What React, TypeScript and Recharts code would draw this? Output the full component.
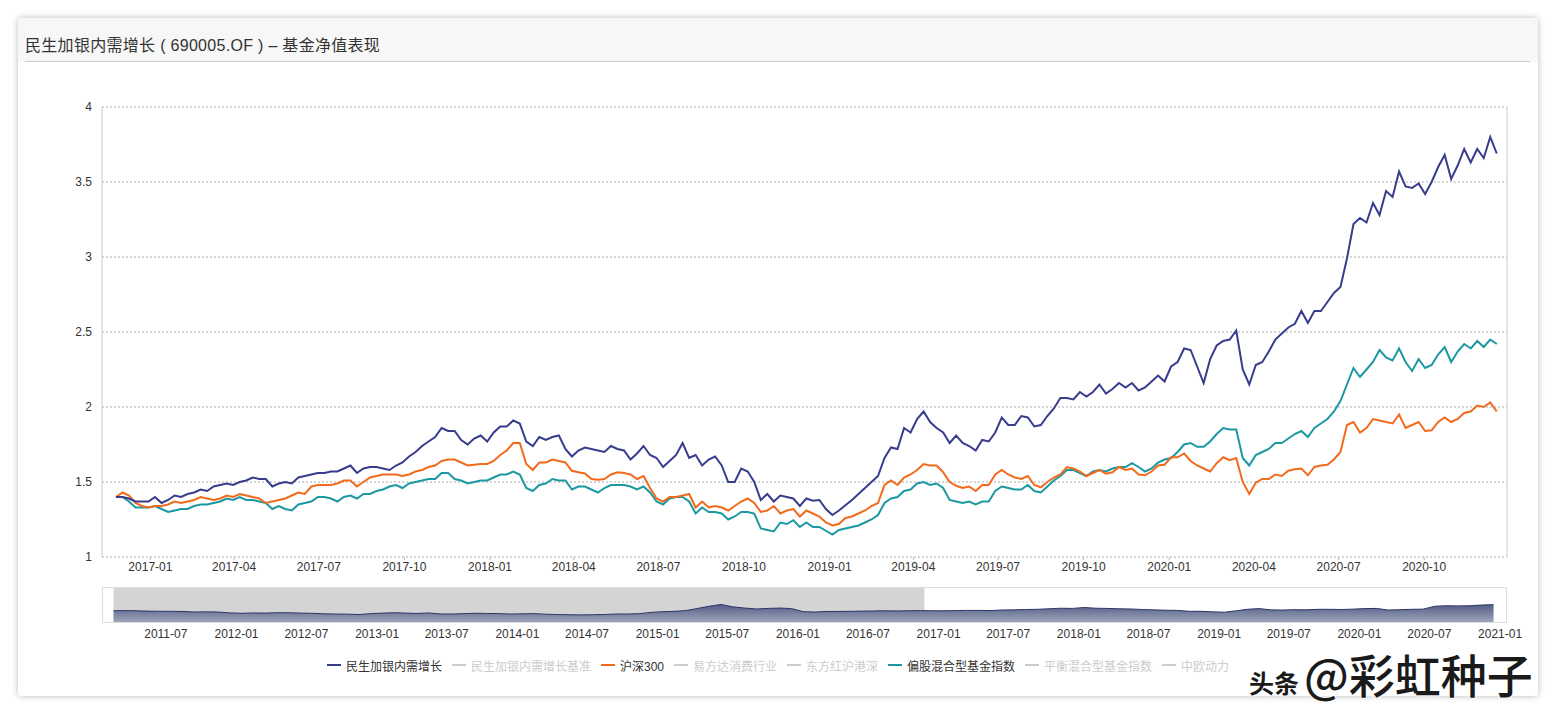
import React from 'react';
import { LineChart, Line, AreaChart, Area, XAxis, YAxis, CartesianGrid, ReferenceArea } from 'recharts';

// weekly NAV points shown in the main chart (Fridays)
const weeks = `
2016-11-25 2016-12-02 2016-12-09 2016-12-16 2016-12-23 2016-12-30
2017-01-06 2017-01-13 2017-01-20 2017-01-27 2017-02-03 2017-02-10 2017-02-17 2017-02-24
2017-03-03 2017-03-10 2017-03-17 2017-03-24 2017-03-31 2017-04-07 2017-04-14 2017-04-21 2017-04-28
2017-05-05 2017-05-12 2017-05-19 2017-05-26 2017-06-02 2017-06-09 2017-06-16 2017-06-23 2017-06-30
2017-07-07 2017-07-14 2017-07-21 2017-07-28 2017-08-04 2017-08-11 2017-08-18 2017-08-25
2017-09-01 2017-09-08 2017-09-15 2017-09-22 2017-09-29 2017-10-06 2017-10-13 2017-10-20 2017-10-27
2017-11-03 2017-11-10 2017-11-17 2017-11-24 2017-12-01 2017-12-08 2017-12-15 2017-12-22 2017-12-29
2018-01-05 2018-01-12 2018-01-19 2018-01-26 2018-02-02 2018-02-09 2018-02-16 2018-02-23
2018-03-02 2018-03-09 2018-03-16 2018-03-23 2018-03-30 2018-04-06 2018-04-13 2018-04-20 2018-04-27
2018-05-04 2018-05-11 2018-05-18 2018-05-25 2018-06-01 2018-06-08 2018-06-15 2018-06-22 2018-06-29
2018-07-06 2018-07-13 2018-07-20 2018-07-27 2018-08-03 2018-08-10 2018-08-17 2018-08-24 2018-08-31
2018-09-07 2018-09-14 2018-09-21 2018-09-28 2018-10-05 2018-10-12 2018-10-19 2018-10-26
2018-11-02 2018-11-09 2018-11-16 2018-11-23 2018-11-30 2018-12-07 2018-12-14 2018-12-21 2018-12-28
2019-01-04 2019-01-11 2019-01-18 2019-01-25 2019-02-01 2019-02-08 2019-02-15 2019-02-22
2019-03-01 2019-03-08 2019-03-15 2019-03-22 2019-03-29 2019-04-05 2019-04-12 2019-04-19 2019-04-26
2019-05-03 2019-05-10 2019-05-17 2019-05-24 2019-05-31 2019-06-07 2019-06-14 2019-06-21 2019-06-28
2019-07-05 2019-07-12 2019-07-19 2019-07-26 2019-08-02 2019-08-09 2019-08-16 2019-08-23 2019-08-30
2019-09-06 2019-09-13 2019-09-20 2019-09-27 2019-10-04 2019-10-11 2019-10-18 2019-10-25
2019-11-01 2019-11-08 2019-11-15 2019-11-22 2019-11-29 2019-12-06 2019-12-13 2019-12-20 2019-12-27
2020-01-03 2020-01-10 2020-01-17 2020-01-24 2020-01-31 2020-02-07 2020-02-14 2020-02-21 2020-02-28
2020-03-06 2020-03-13 2020-03-20 2020-03-27 2020-04-03 2020-04-10 2020-04-17 2020-04-24
2020-05-01 2020-05-08 2020-05-15 2020-05-22 2020-05-29 2020-06-05 2020-06-12 2020-06-19 2020-06-26
2020-07-03 2020-07-10 2020-07-17 2020-07-24 2020-07-31 2020-08-07 2020-08-14 2020-08-21 2020-08-28
2020-09-04 2020-09-11 2020-09-18 2020-09-25 2020-10-02 2020-10-09 2020-10-16 2020-10-23 2020-10-30
2020-11-06 2020-11-13 2020-11-20 2020-11-27 2020-12-04 2020-12-11 2020-12-18
`.trim().split(/\s+/);

// 民生加银内需增长
const fundNav = [
  1.40, 1.40, 1.39, 1.37, 1.37, 1.37, 1.40, 1.36, 1.38, 1.41,
  1.40, 1.42, 1.43, 1.45, 1.44, 1.47, 1.48, 1.49, 1.48, 1.50,
  1.51, 1.53, 1.52, 1.52, 1.47, 1.49, 1.50, 1.49, 1.53, 1.54,
  1.55, 1.56, 1.56, 1.57, 1.57, 1.59, 1.61, 1.56, 1.59, 1.60,
  1.60, 1.59, 1.58, 1.61, 1.63, 1.67, 1.70, 1.74, 1.77, 1.80,
  1.86, 1.84, 1.84, 1.78, 1.75, 1.79, 1.81, 1.77, 1.83, 1.87,
  1.87, 1.91, 1.89, 1.77, 1.74, 1.80, 1.78, 1.80, 1.81, 1.72,
  1.67, 1.71, 1.73, 1.72, 1.71, 1.70, 1.74, 1.72, 1.71, 1.65,
  1.69, 1.74, 1.68, 1.66, 1.60, 1.64, 1.68, 1.76, 1.66, 1.68,
  1.61, 1.65, 1.67, 1.61, 1.50, 1.50, 1.59, 1.57, 1.50, 1.38,
  1.42, 1.37, 1.41, 1.40, 1.39, 1.34, 1.39, 1.375, 1.38, 1.32,
  1.28, 1.31, 1.345, 1.38, 1.42, 1.46, 1.50, 1.54, 1.66, 1.73,
  1.72, 1.86, 1.83, 1.92, 1.97, 1.90, 1.86, 1.83, 1.76, 1.81,
  1.76, 1.74, 1.71, 1.78, 1.77, 1.83, 1.93, 1.88, 1.88, 1.94,
  1.93, 1.87, 1.88, 1.94, 1.99, 2.06, 2.06, 2.05, 2.10, 2.07,
  2.10, 2.15, 2.09, 2.12, 2.16, 2.13, 2.16, 2.11, 2.13, 2.17,
  2.21, 2.17, 2.27, 2.30, 2.39, 2.38, 2.27, 2.16, 2.32, 2.41,
  2.44, 2.45, 2.51, 2.25, 2.15, 2.28, 2.30, 2.37, 2.45, 2.49,
  2.53, 2.555, 2.64, 2.56, 2.64, 2.64, 2.70, 2.76, 2.80, 2.99,
  3.22, 3.26, 3.23, 3.36, 3.28, 3.44, 3.40, 3.57, 3.47, 3.46,
  3.49, 3.42, 3.50, 3.60, 3.68, 3.52, 3.61, 3.72, 3.63, 3.72,
  3.66, 3.80, 3.69,
];

// 沪深300
const hs300 = [
  1.40, 1.43, 1.41, 1.36, 1.34, 1.33, 1.34, 1.34, 1.35, 1.37,
  1.36, 1.37, 1.38, 1.40, 1.39, 1.38, 1.39, 1.41, 1.40, 1.42,
  1.41, 1.40, 1.39, 1.36, 1.37, 1.38, 1.39, 1.41, 1.43, 1.42,
  1.47, 1.48, 1.48, 1.48, 1.49, 1.51, 1.51, 1.47, 1.50, 1.53,
  1.54, 1.55, 1.55, 1.55, 1.54, 1.55, 1.57, 1.58, 1.60, 1.61,
  1.64, 1.65, 1.65, 1.63, 1.61, 1.615, 1.62, 1.62, 1.64, 1.68,
  1.71, 1.76, 1.76, 1.62, 1.58, 1.63, 1.63, 1.65, 1.64, 1.63,
  1.575, 1.565, 1.557, 1.52, 1.515, 1.52, 1.55, 1.565, 1.56, 1.55,
  1.52, 1.54, 1.46, 1.39, 1.37, 1.40, 1.40, 1.41, 1.42, 1.33,
  1.37, 1.33, 1.34, 1.33, 1.31, 1.34, 1.37, 1.39, 1.36, 1.30,
  1.31, 1.34, 1.29, 1.31, 1.32, 1.27, 1.31, 1.29, 1.27, 1.23,
  1.21, 1.22, 1.26, 1.27, 1.29, 1.31, 1.34, 1.36, 1.48, 1.51,
  1.48, 1.53, 1.55, 1.58, 1.62, 1.61, 1.61, 1.565, 1.50, 1.475,
  1.46, 1.47, 1.44, 1.48, 1.48, 1.55, 1.58, 1.55, 1.53, 1.52,
  1.54, 1.48, 1.465, 1.50, 1.53, 1.55, 1.60, 1.59, 1.57, 1.54,
  1.56, 1.58, 1.555, 1.565, 1.60, 1.58, 1.59, 1.55, 1.545, 1.57,
  1.61, 1.615, 1.665, 1.665, 1.69, 1.64, 1.61, 1.59, 1.57, 1.625,
  1.665, 1.645, 1.66, 1.50, 1.42, 1.495, 1.52, 1.52, 1.55, 1.54,
  1.575, 1.585, 1.59, 1.545, 1.60, 1.61, 1.615, 1.65, 1.70, 1.88,
  1.90, 1.83, 1.86, 1.92, 1.91, 1.90, 1.89, 1.95, 1.86, 1.88,
  1.90, 1.84, 1.845, 1.90, 1.93, 1.90, 1.92, 1.96, 1.97, 2.01,
  2.00, 2.03, 1.97,
];

// 偏股混合型基金指数
const mixedIndex = [
  1.40, 1.40, 1.37, 1.33, 1.33, 1.33, 1.34, 1.32, 1.30, 1.31,
  1.32, 1.32, 1.34, 1.35, 1.35, 1.36, 1.37, 1.39, 1.38, 1.40,
  1.38, 1.38, 1.37, 1.36, 1.32, 1.34, 1.32, 1.31, 1.35, 1.36,
  1.37, 1.40, 1.40, 1.39, 1.37, 1.40, 1.41, 1.39, 1.42, 1.42,
  1.44, 1.45, 1.47, 1.48, 1.46, 1.49, 1.50, 1.51, 1.52, 1.52,
  1.56, 1.56, 1.52, 1.51, 1.49, 1.50, 1.51, 1.51, 1.53, 1.55,
  1.55, 1.57, 1.55, 1.46, 1.44, 1.48, 1.49, 1.52, 1.51, 1.51,
  1.45, 1.47, 1.47, 1.45, 1.43, 1.46, 1.48, 1.48, 1.48, 1.47,
  1.45, 1.47, 1.43, 1.37, 1.35, 1.39, 1.40, 1.40, 1.37, 1.29,
  1.33, 1.30, 1.30, 1.29, 1.25, 1.27, 1.30, 1.30, 1.29, 1.19,
  1.18, 1.17, 1.23, 1.22, 1.245, 1.20, 1.23, 1.20, 1.20, 1.175,
  1.15, 1.18, 1.19, 1.20, 1.21, 1.23, 1.25, 1.28, 1.36, 1.39,
  1.40, 1.44, 1.45, 1.49, 1.50, 1.48, 1.49, 1.46, 1.38, 1.37,
  1.36, 1.37, 1.35, 1.37, 1.37, 1.44, 1.47, 1.46, 1.45, 1.45,
  1.48, 1.44, 1.43, 1.47, 1.51, 1.54, 1.58, 1.58, 1.56, 1.54,
  1.57, 1.58, 1.57, 1.59, 1.60, 1.60, 1.625, 1.60, 1.57, 1.59,
  1.63, 1.65, 1.66, 1.70, 1.75, 1.76, 1.735, 1.735, 1.77, 1.82,
  1.86, 1.85, 1.85, 1.66, 1.61, 1.68, 1.70, 1.72, 1.76, 1.76,
  1.79, 1.82, 1.84, 1.80, 1.86, 1.89, 1.92, 1.97, 2.04, 2.15,
  2.26, 2.20, 2.25, 2.30, 2.38, 2.33, 2.31, 2.39, 2.30, 2.24,
  2.32, 2.26, 2.28, 2.35, 2.40, 2.30, 2.37, 2.42, 2.39, 2.44,
  2.40, 2.45, 2.42,
];

const xTicks = [
  '2017-01', '2017-04', '2017-07', '2017-10', '2018-01', '2018-04', '2018-07', '2018-10',
  '2019-01', '2019-04', '2019-07', '2019-10', '2020-01', '2020-04', '2020-07', '2020-10',
];
const yTicks = [1, 1.5, 2, 2.5, 3, 3.5, 4];

// long history used by the zoom strip under the chart (monthly)
const historyMonths = `
2011-02 2011-03 2011-04 2011-05 2011-06 2011-07 2011-08 2011-09 2011-10 2011-11 2011-12
2012-01 2012-02 2012-03 2012-04 2012-05 2012-06 2012-07 2012-08 2012-09 2012-10 2012-11 2012-12
2013-01 2013-02 2013-03 2013-04 2013-05 2013-06 2013-07 2013-08 2013-09 2013-10 2013-11 2013-12
2014-01 2014-02 2014-03 2014-04 2014-05 2014-06 2014-07 2014-08 2014-09 2014-10 2014-11 2014-12
2015-01 2015-02 2015-03 2015-04 2015-05 2015-06 2015-07 2015-08 2015-09 2015-10 2015-11 2015-12
2016-01 2016-02 2016-03 2016-04 2016-05 2016-06 2016-07 2016-08 2016-09 2016-10 2016-11 2016-12
2017-01 2017-02 2017-03 2017-04 2017-05 2017-06 2017-07 2017-08 2017-09 2017-10 2017-11 2017-12
2018-01 2018-02 2018-03 2018-04 2018-05 2018-06 2018-07 2018-08 2018-09 2018-10 2018-11 2018-12
2019-01 2019-02 2019-03 2019-04 2019-05 2019-06 2019-07 2019-08 2019-09 2019-10 2019-11 2019-12
2020-01 2020-02 2020-03 2020-04 2020-05 2020-06 2020-07 2020-08 2020-09 2020-10 2020-11 2020-12
`.trim().split(/\s+/);

const historyNav = [
  1.36, 1.38, 1.36, 1.32, 1.30, 1.30, 1.28, 1.22, 1.24, 1.22, 1.12,
  1.08, 1.12, 1.10, 1.14, 1.14, 1.10, 1.08, 1.02, 1.00, 0.98, 0.94, 1.04,
  1.10, 1.14, 1.10, 1.06, 1.12, 1.00, 1.00, 1.04, 1.08, 1.06, 1.04, 1.00,
  1.02, 1.04, 0.98, 0.94, 0.92, 0.90, 0.92, 0.94, 1.00, 1.00, 1.04, 1.18,
  1.26, 1.30, 1.38, 1.62, 1.86, 2.06, 1.80, 1.66, 1.56, 1.62, 1.66, 1.60,
  1.26, 1.22, 1.28, 1.28, 1.30, 1.32, 1.34, 1.36, 1.34, 1.36, 1.38, 1.36,
  1.36, 1.38, 1.40, 1.40, 1.38, 1.44, 1.46, 1.50, 1.52, 1.58, 1.64, 1.62,
  1.72, 1.64, 1.62, 1.58, 1.56, 1.50, 1.46, 1.42, 1.40, 1.30, 1.30, 1.24,
  1.20, 1.36, 1.52, 1.60, 1.46, 1.44, 1.48, 1.46, 1.52, 1.52, 1.50, 1.54,
  1.60, 1.62, 1.44, 1.48, 1.52, 1.54, 1.86, 1.92, 1.90, 1.92, 2.00, 2.04,
];

const historyTicks = [
  '2011-07', '2012-01', '2012-07', '2013-01', '2013-07', '2014-01', '2014-07', '2015-01', '2015-07', '2016-01',
  '2016-07', '2017-01', '2017-07', '2018-01', '2018-07', '2019-01', '2019-07', '2020-01', '2020-07', '2021-01',
];

const legendItems = [
  { name: '民生加银内需增长', color: '#383c8c', active: true },
  { name: '民生加银内需增长基准', color: '#ccc', active: false },
  { name: '沪深300', color: '#f26b1d', active: true },
  { name: '易方达消费行业', color: '#ccc', active: false },
  { name: '东方红沪港深', color: '#ccc', active: false },
  { name: '偏股混合型基金指数', color: '#1c98a3', active: true },
  { name: '平衡混合型基金指数', color: '#ccc', active: false },
  { name: '中欧动力', color: '#ccc', active: false },
];

const toTime = (s: string) => Date.parse(s.length === 7 ? s + '-01' : s);
const fmtMonth = (t: number) => new Date(t).toISOString().slice(0, 7);

const mainData = weeks.map((d, i) => ({
  t: toTime(d),
  fund: fundNav[i],
  hs300: hs300[i],
  mixed: mixedIndex[i],
}));

const historyData = historyMonths.map((m, i) => ({ t: Date.parse(m + '-15'), nav: historyNav[i] }));

const FONT = "'Helvetica Neue', Helvetica, Arial, 'Liberation Sans', 'Noto Sans CJK SC', sans-serif";

const App: React.FC = () => {
  return (
    <div style={{ position: 'absolute', left: 0, top: 0, width: 1556, height: 714, background: '#fff', fontFamily: FONT }}>
      {/* card */}
      <div
        style={{
          position: 'absolute', left: 18, top: 18, width: 1520, height: 678,
          background: '#fff', borderRadius: 3, boxShadow: '0 0 6px rgba(0,0,0,0.28)',
        }}
      >
        <div style={{ height: 44, background: '#f7f7f7', borderRadius: '3px 3px 0 0' }}>
          <div
            style={{
              marginLeft: 7, marginRight: 8, height: 44, boxSizing: 'border-box', borderBottom: '1px solid #ccc',
              paddingTop: 18, fontSize: 16, letterSpacing: 0.3, lineHeight: '20px', color: '#333',
            }}
          >
            民生加银内需增长 ( 690005.OF ) – 基金净值表现
          </div>
        </div>
      </div>

      {/* main chart */}
      <div style={{ position: 'absolute', left: 0, top: 0 }}>
        <LineChart width={1556} height={600} data={mainData} margin={{ top: 107, right: 48, left: 62, bottom: 13 }}>
          <CartesianGrid vertical={false} stroke="#aaa" strokeDasharray="2 2" />
          <XAxis
            dataKey="t"
            type="number"
            domain={[toTime('2016-11-10'), toTime('2020-12-29')]}
            ticks={xTicks.map(toTime)}
            tickFormatter={fmtMonth}
            interval={0}
            height={30}
            axisLine={false}
            tickLine={{ stroke: '#bbb' }}
            tickSize={3}
            tickMargin={2}
            tick={{ fill: '#333', fontSize: 12 }}
          />
          <YAxis
            domain={[1, 4]}
            ticks={yTicks}
            width={40}
            axisLine={{ stroke: '#ccc' }}
            tickLine={false}
            tickMargin={4}
            tick={{ fill: '#333', fontSize: 12 }}
          />
          <YAxis yAxisId="right" orientation="right" domain={[1, 4]} width={1} tick={false} tickLine={false} axisLine={{ stroke: '#ccc' }} />
          <Line type="linear" dataKey="mixed" stroke="#1c98a3" strokeWidth={2} dot={false} activeDot={false} isAnimationActive={false} />
          <Line type="linear" dataKey="hs300" stroke="#f26b1d" strokeWidth={2} dot={false} activeDot={false} isAnimationActive={false} />
          <Line type="linear" dataKey="fund" stroke="#383c8c" strokeWidth={2} dot={false} activeDot={false} isAnimationActive={false} />
        </LineChart>
      </div>

      {/* zoom strip */}
      <div style={{ position: 'absolute', left: 102, top: 587 }}>
        <AreaChart width={1455} height={60} data={historyData} margin={{ top: 0, right: 50, left: 0, bottom: 0 }}>
          <defs>
            <linearGradient id="shadowFill" x1="0" y1="0" x2="0" y2="1">
              <stop offset="0%" stopColor="#525d86" />
              <stop offset="100%" stopColor="#a2a9bc" />
            </linearGradient>
          </defs>
          <ReferenceArea x1={Date.parse('2011-02-15')} x2={toTime('2016-11-25')} fill="#d4d4d4" fillOpacity={1} stroke="none" />
          <XAxis
            dataKey="t"
            type="number"
            domain={[toTime('2011-01-16'), toTime('2021-01-19')]}
            ticks={historyTicks.map(toTime)}
            tickFormatter={fmtMonth}
            interval={0}
            height={24}
            axisLine={false}
            tickLine={false}
            tickSize={0}
            tickMargin={6}
            tick={{ fill: '#333', fontSize: 12 }}
          />
          <YAxis hide domain={[0, 4]} />
          <Area type="linear" dataKey="nav" stroke="#2e3566" strokeWidth={1} fill="url(#shadowFill)" fillOpacity={1} isAnimationActive={false} />
        </AreaChart>
      </div>
      <div
        style={{
          position: 'absolute', left: 102, top: 587, width: 1405, height: 36,
          boxSizing: 'border-box', border: '1px solid #ddd', pointerEvents: 'none',
        }}
      />

      {/* legend */}
      <div
        style={{
          position: 'absolute', left: 18, top: 657, width: 1520, height: 16,
          display: 'flex', justifyContent: 'center', alignItems: 'center', fontSize: 12,
        }}
      >
        {legendItems.map((item) => (
          <div key={item.name} style={{ display: 'flex', alignItems: 'center', margin: '0 5px' }}>
            <span style={{ display: 'inline-block', width: 14, height: 2, background: item.color, marginRight: 5 }} />
            <span style={{ color: item.active ? '#333' : '#ccc' }}>{item.name}</span>
          </div>
        ))}
      </div>

      {/* source watermark */}
      <div
        style={{
          position: 'absolute', left: 1249, top: 651, height: 44, lineHeight: '44px',
          fontFamily: "'Noto Sans CJK SC', sans-serif", fontWeight: 500,
          color: '#1a1a1a', whiteSpace: 'nowrap', textShadow: '0 0 3px #fff, 0 0 3px #fff',
        }}
      >
        <span style={{ fontSize: 25, fontWeight: 700 }}>头条</span>
        <span style={{ fontSize: 46, marginLeft: 5 }}>@彩虹种子</span>
      </div>
    </div>
  );
};

export default App;
